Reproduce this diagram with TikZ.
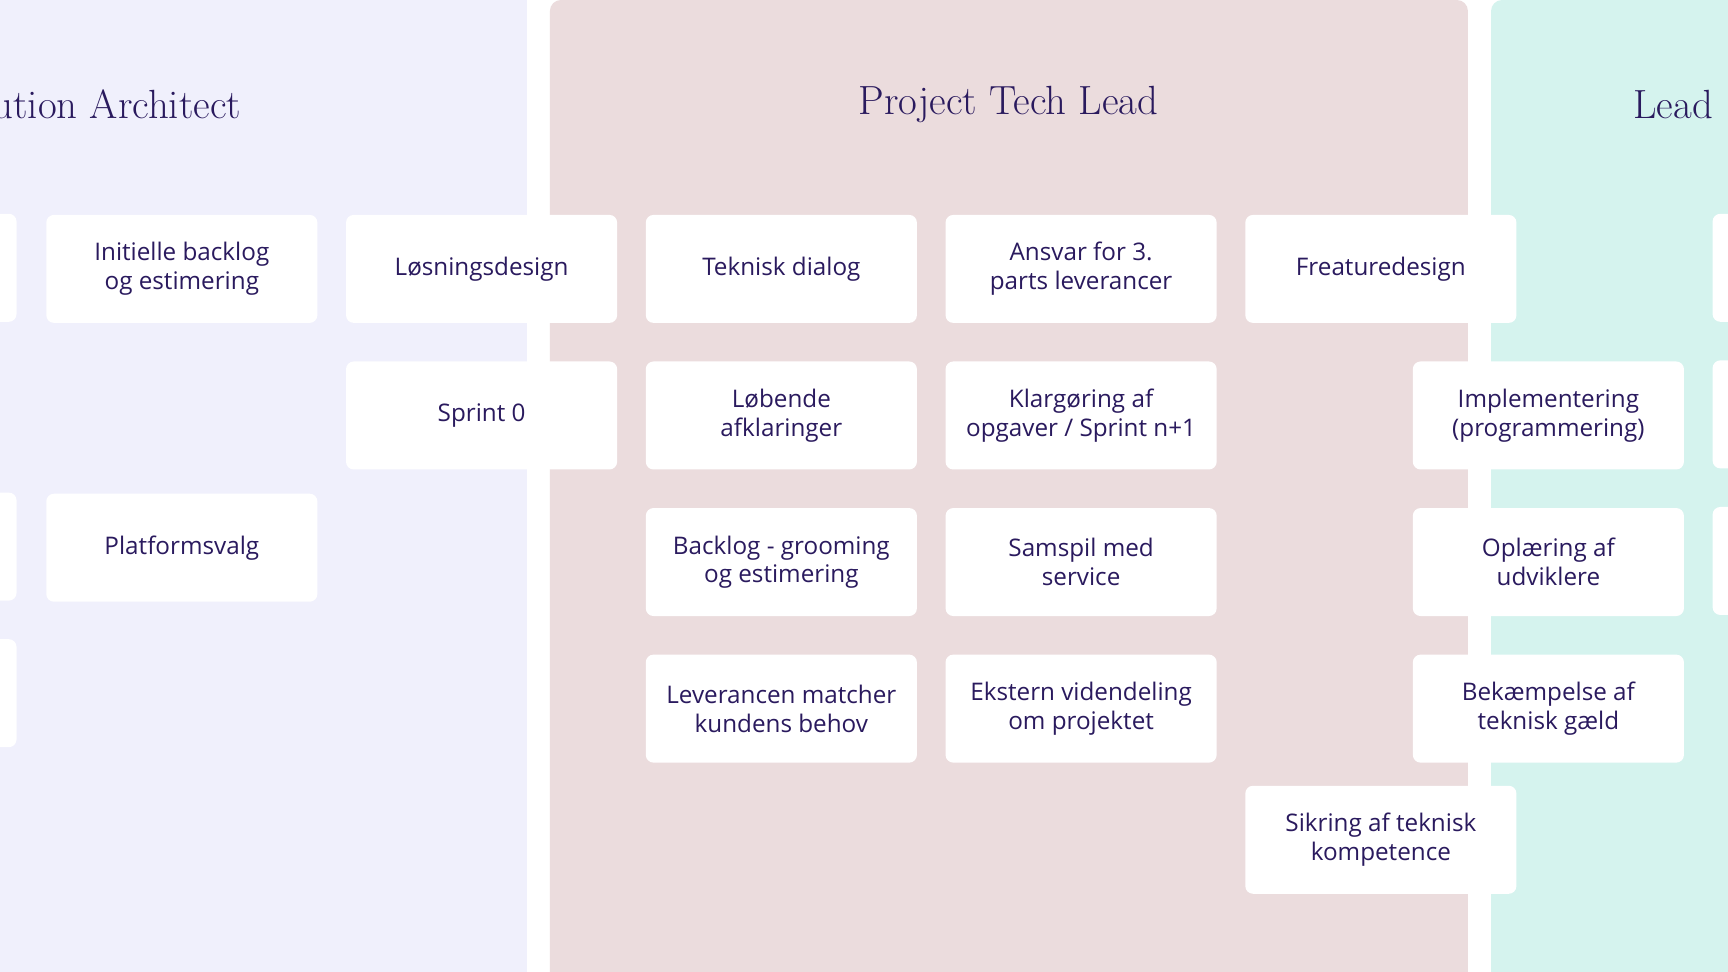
\documentclass[tikz,border=0pt]{standalone}
\usepackage{fontspec}
\setsansfont{Open Sans}
\definecolor{ink}{HTML}{2A1A5E}
\definecolor{lav}{HTML}{F0F0FC}
\definecolor{pinkp}{HTML}{EBDCDD}
\definecolor{mint}{HTML}{D5F3EE}
\begin{document}
\begin{tikzpicture}[x=1pt,y=-1pt,
  card/.style={fill=white,rounded corners=7pt,draw=none,minimum width=246pt,minimum height=98pt,
    align=center,text=ink,font=\sffamily\fontsize{22}{26}\selectfont,inner sep=0pt},
  ttl/.style={text=ink,font=\rmfamily\fontsize{37}{42}\selectfont,inner sep=0pt}]
\useasboundingbox (0,0) rectangle (1568,882);
\fill[white] (0,0) rectangle (1568,882);
\fill[lav,rounded corners=10pt] (-30,-30) rectangle (478,920);
\fill[pinkp,rounded corners=10pt] (499,0) rectangle (1332,920);
\fill[mint,rounded corners=10pt] (1353,0) rectangle (1620,920);
\node[ttl,anchor=east] (t1) at (219,95) {ution Architect};
\node[ttl] (t2) at (915,95) {Project Tech Lead};
\node[ttl,anchor=west] (t3) at (1482,95) {Lead};
% partial left
\node[card] (p1) at (-108,243) {};
\node[card] (p2) at (-108,496) {};
\node[card] (p3) at (-108,629) {};
% col1
\node[card] (a1) at (165,244) {Initielle backlog\\og estimering};
\node[card] (a2) at (165,497) {Platformsvalg};
% col2
\node[card] (b1) at (437,244) {Løsningsdesign};
\node[card] (b2) at (437,377) {Sprint 0};
% col3
\node[card] (c1) at (709,244) {Teknisk dialog};
\node[card] (c2) at (709,377) {Løbende\\afklaringer};
\node[card] (c3) at (709,510) {Backlog - grooming\\og estimering};
\node[card] (c4) at (709,643) {Leverancen matcher\\kundens behov};
% col4
\node[card] (d1) at (981,244) {Ansvar for 3.\\parts leverancer};
\node[card] (d2) at (981,377) {Klargøring af\\opgaver / Sprint n+1};
\node[card] (d3) at (981,510) {Samspil med\\service};
\node[card] (d4) at (981,643) {Ekstern videndeling\\om projektet};
% col5
\node[card] (e1) at (1253,244) {Freaturedesign};
\node[card] (e2) at (1253,762) {Sikring af teknisk\\kompetence};
% col6
\node[card] (f1) at (1405,377) {Implementering\\(programmering)};
\node[card] (f2) at (1405,510) {Oplæring af\\udviklere};
\node[card] (f3) at (1405,643) {Bekæmpelse af\\teknisk gæld};
% col7 partial
\node[card] (g1) at (1677,243) {};
\node[card] (g2) at (1677,376) {};
\node[card] (g3) at (1677,509) {};
\end{tikzpicture}
\end{document}
